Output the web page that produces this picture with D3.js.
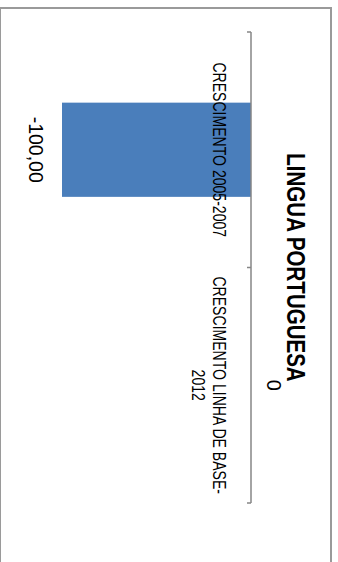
<!DOCTYPE html>
<html>
<head>
<meta charset="utf-8">
<script src="https://cdn.jsdelivr.net/npm/d3@7"></script>
<style>
  html, body { margin: 0; padding: 0; background: #fff; }
  svg { display: block; }
  text { font-family: "Liberation Sans", Arial, sans-serif; fill: #000; }
</style>
</head>
<body>
<script>
// ---- data ----
const title = "LINGUA PORTUGUESA";
const categories = ["CRESCIMENTO 2005-2007", "CRESCIMENTO LINHA DE BASE-2012"];
const values = [-100, 0];
const valueLabels = ["-100,00", "0"];
const valueDomain = [-100, 0];

// ---- layout (chart is drawn unrotated, then turned 90° clockwise) ----
const SW = 338, SH = 562;         // screen size
const W = SH, H = SW;             // unrotated chart size
const svg = d3.select("body").append("svg").attr("width", SW).attr("height", SH);
const g = svg.append("g").attr("transform", `translate(${SW},0) rotate(90)`);

// outer chart border
g.append("rect")
  .attr("x", 8).attr("y", 7).attr("width", W + 40).attr("height", H - 7)
  .attr("fill", "#fff").attr("stroke", "#9a9a9a").attr("stroke-width", 2);

const x = d3.scaleBand().domain(categories).range([32, 503]).paddingInner(0.6).paddingOuter(0.3);
const y = d3.scaleLinear().domain(valueDomain).range([276, 87]);

// bars
g.selectAll("rect.bar").data(values).join("rect")
  .attr("class", "bar")
  .attr("x", (d, i) => x(categories[i]))
  .attr("width", x.bandwidth())
  .attr("y", d => Math.min(y(d), y(0)))
  .attr("height", d => Math.abs(y(d) - y(0)))
  .attr("fill", "#4a7ebb");

// category axis at value 0, ticks at category boundaries
const axisG = g.append("g").attr("transform", `translate(0,${y(0)})`);
axisG.append("line")
  .attr("x1", x.range()[0]).attr("x2", x.range()[1])
  .attr("stroke", "#868686").attr("stroke-width", 1.5);
const boundaries = categories.map(c => x(c) - x.step() * x.paddingOuter())
  .concat([x.range()[1]]);
axisG.selectAll("line.tick").data(boundaries).join("line")
  .attr("class", "tick")
  .attr("x1", d => d).attr("x2", d => d)
  .attr("y1", 0).attr("y2", 4)
  .attr("stroke", "#868686").attr("stroke-width", 1.5);

// category labels (wrapped after the hyphen when too long)
function wrap(s) {
  if (s.length <= 22) return [s];
  const k = s.lastIndexOf("-") + 1;
  return [s.slice(0, k), s.slice(k)];
}
categories.forEach((c, i) => {
  const cx = x(c) + x.bandwidth() / 2;
  wrap(c).forEach((line, j) => {
    g.append("text")
      .attr("transform", `translate(${cx},${y(0) + 38 + j * 21.5}) scale(0.74,1)`)
      .attr("text-anchor", "middle")
      .attr("font-size", 19)
      .text(line);
  });
});

// data labels
values.forEach((v, i) => {
  const cx = x(categories[i]) + x.bandwidth() / 2;
  const yb = v < 0 ? y(v) + 33 : y(v) - 16;
  g.append("text")
    .attr("x", cx).attr("y", yb)
    .attr("text-anchor", "middle")
    .attr("font-size", v < 0 ? 19.5 : 20)
    .text(valueLabels[i]);
});

// title
g.append("text")
  .attr("transform", `translate(267.5,51) scale(0.79,1)`)
  .attr("text-anchor", "middle")
  .attr("font-size", 26)
  .attr("font-weight", "bold")
  .text(title);
</script>
</body>
</html>
